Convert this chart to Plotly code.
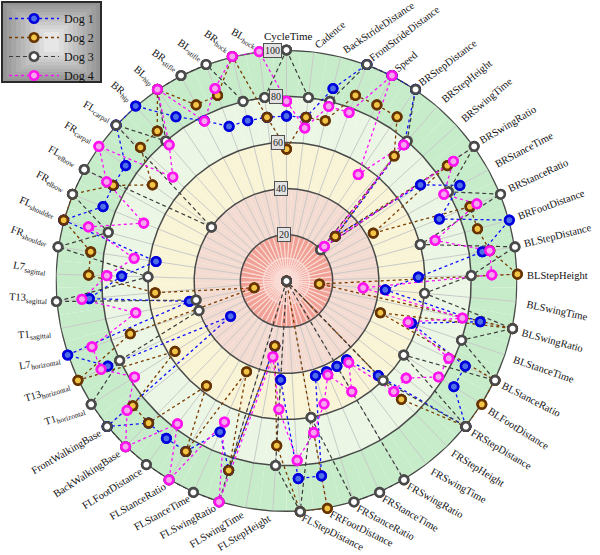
import math
import plotly.graph_objects as go

# ---------------- data ----------------
CATEGORIES = [
    "CycleTime", "Cadence", "BackStrideDistance", "FrontStrideDistance", "Speed",
    "BRStepDistance", "BRStepHeight", "BRSwingTime", "BRSwingRatio", "BRStanceTime",
    "BRStanceRatio", "BRFootDistance", "BLStepDistance", "BLStepHeight", "BLSwingTime",
    "BLSwingRatio", "BLStanceTime", "BLStanceRatio", "BLFootDistance", "FRStepDistance",
    "FRStepHeight", "FRSwingTime", "FRSwingRatio", "FRStanceTime", "FRStanceRatio",
    "FRFootDistance", "FLStepDistance", "FLStepHeight", "FLSwingTime", "FLSwingRatio",
    "FLStanceTime", "FLStanceRatio", "FLFootDistance", "BackWalkingBase", "FrontWalkingBase",
    "T1horizontal", "T13horizontal", "L7horizontal", "T1sagittal", "T13sagittal",
    "L7sagittal", "FRshoulder", "FLshoulder", "FRelbow", "FLelbow",
    "FRcarpal", "FLcarpal", "BRhip", "BLhip", "BRstifle",
    "BLstifle", "BRhock", "BLhock",
]

TICK_LABELS = [
    "CycleTime", "Cadence", "BackStrideDistance", "FrontStrideDistance", "Speed",
    "BRStepDistance", "BRStepHeight", "BRSwingTime", "BRSwingRatio", "BRStanceTime",
    "BRStanceRatio", "BRFootDistance", "BLStepDistance", "BLStepHeight", "BLSwingTime",
    "BLSwingRatio", "BLStanceTime", "BLStanceRatio", "BLFootDistance", "FRStepDistance",
    "FRStepHeight", "FRSwingTime", "FRSwingRatio", "FRStanceTime", "FRStanceRatio",
    "FRFootDistance", "FLStepDistance", "FLStepHeight", "FLSwingTime", "FLSwingRatio",
    "FLStanceTime", "FLStanceRatio", "FLFootDistance", "BackWalkingBase", "FrontWalkingBase",
    "T1<sub>horizontal</sub>", "T13<sub>horizontal</sub>", "L7<sub>horizontal</sub>",
    "T1<sub>sagittal</sub>", "T13<sub>sagittal</sub>", "L7<sub>sagittal</sub>",
    "FR<sub>shoulder</sub>", "FL<sub>shoulder</sub>", "FR<sub>elbow</sub>", "FL<sub>elbow</sub>",
    "FR<sub>carpal</sub>", "FL<sub>carpal</sub>", "BR<sub>hip</sub>", "BL<sub>hip</sub>",
    "BR<sub>stifle</sub>", "BL<sub>stifle</sub>", "BR<sub>hock</sub>", "BL<sub>hock</sub>",
]

SERIES_NAMES = ["Dog 1", "Dog 2", "Dog 3", "Dog 4"]

DOG1 = [71.4, 71.4, 85.7, 100, 100, 100, 78, 28.6, 71.4, 85.7,
        71.4, 100, 85.7, 57.1, 42.9, 85.7, 57.1, 85.7, 85.7, 100,
        57.1, 42.9, 42.9, 42.9, 42.9, 85.7, 85.7, 42.9, 28.6, 85.7,
        71.4, 85.7, 85.7, 85.7, 100, 28.6, 85.7, 100, 42.9, 85.7,
        71.4, 57.1, 100, 85.7, 85.7, 85.7, 100, 100, 85.7, 78,
        71.4, 71.4, 71.4]

DOG2 = [57.1, 71.4, 71.4, 85.7, 85.7, 85.7, 71.4, 28.6, 85.7, 42.9,
        85.7, 85.7, 89, 100, 14.3, 100, 42.9, 100, 100, 100,
        71.4, 0, 0, 0, 0, 100, 100, 71.4, 28.6, 85.7,
        42.9, 85.7, 57.1, 85.7, 85.7, 57.1, 100, 71.4, 14.3, 57.1,
        85.7, 85.7, 100, 100, 85.7, 71.4, 85.7, 85.7, 100, 85.7,
        85.7, 100, 71.4]

DOG3 = [100, 80, 80, 100, 100, 100, 80, 20, 100, 80,
        100, 60, 100, 80, 60, 100, 80, 100, 60, 100,
        60, 0, 100, 100, 100, 60, 100, 80, 0, 100,
        100, 100, 100, 100, 100, 100, 80, 40, 40, 100,
        60, 100, 80, 100, 100, 40, 100, 80, 100, 100,
        100, 80, 80]

DOG4 = [77.8, 66.7, 77.8, 77.8, 100, 55.6, 77.8, 22.2, 88.9, 77.8,
        88.9, 66.7, 88.9, 88.9, 33.3, 77.8, 55.6, 77.8, 77.8, 66.7,
        66.7, 44.4, 55.6, 44.4, 55.6, 66.7, 77.8, 55.6, 33.3, 100,
        66.7, 100, 77.8, 100, 88.9, 77.8, 88.9, 88.9, 66.7, 88.9,
        77.8, 66.7, 88.9, 66.7, 88.9, 100, 66.7, 77.8, 100, 77.8,
        88.9, 100, 100]

RING_TICKS = [20, 40, 60, 80, 100]

# ---------------- styles / geometry ----------------
W, H = 600, 555
CX, CY, R = 286.5, 281.0, 231.0
FONT = "Liberation Serif"

LINE_STYLES = [
    dict(color="#1010ff", dash="dot", width=1.3),
    dict(color="#7a3c00", dash="dot", width=1.3),
    dict(color="#3c3c3c", dash="4px,3px", width=1.2),
    dict(color="#ff10ff", dash="dot", width=1.3),
]
MARKER_STYLES = [
    dict(color="#4f6fe6", size=8.5, line=dict(color="#0000dd", width=2.6)),
    dict(color="#f4c544", size=8.5, line=dict(color="#673400", width=2.6)),
    dict(color="#ffffff", size=8.5, line=dict(color="#4a4a4a", width=2.6)),
    dict(color="#f6a6ef", size=8.5, line=dict(color="#ff14f0", width=2.6)),
]
# rotation (deg, clockwise) of each category label
LABEL_ANGLES = [0, -40, -34, -37, -40, -37, -39, -40, -31, -28,
                -25, -20, -14, 0, 12, 15, 19, 27, 32, 31,
                32, 29, 29, 30, 28, 26, 27, -31, -31, -28,
                -29, -30, -32, -33, -30, -18, -17, -10, -5, 3,
                10, 20, 23, 28, 29, 30, 30, 40, 40, 35,
                35, 35, 30]

BANDS = [  # (base, width, color)
    (0, 5, "#f5c0b7"), (5, 5, "#f3b0a6"), (10, 10, "#f0a094"), (20, 20, "#f4dbd1"),
    (40, 20, "#f8f4d5"), (60, 20, "#ebf7e4"), (80, 20, "#c7ecca"),
]

N = len(CATEGORIES)
LABEL_SIZE = 10.5


def paper(px, py):
    return px / W, 1 - py / H


fig = go.Figure()

# background bands
for b, w, col in BANDS:
    inner = b < 20
    fig.add_trace(go.Barpolar(
        theta=CATEGORIES, r=[w] * N, base=[b] * N,
        marker=dict(color=col, line=dict(color="#fadcd6" if inner else col,
                                         width=1.1 if inner else 0)),
        showlegend=False, hoverinfo="skip"))

# radial grid lines
gt, gr = [], []
for c in CATEGORIES:
    gt += [c, c, None]
    gr += [20, 100, None]
fig.add_trace(go.Scatterpolar(theta=gt, r=gr, mode="lines",
                              line=dict(color="#c9c9c9", width=1),
                              showlegend=False, hoverinfo="skip", connectgaps=False))

# ring circles
for t in RING_TICKS:
    fig.add_trace(go.Scatterpolar(
        theta=CATEGORIES + [CATEGORIES[0]], r=[t] * (N + 1), mode="lines",
        line=dict(color="#4a4a4a", width=2.0 if t == 100 else 1.5),
        showlegend=False, hoverinfo="skip"))

# dog polygons (lines + legend)
series = [DOG1, DOG2, DOG3, DOG4]
for k, vals in enumerate(series):
    fig.add_trace(go.Scatterpolar(
        theta=CATEGORIES + [CATEGORIES[0]], r=vals + [vals[0]],
        mode="lines+markers", name=SERIES_NAMES[k],
        line=LINE_STYLES[k], marker=MARKER_STYLES[k], hoverinfo="skip"))
# markers on top of all lines
for k, vals in enumerate(series):
    fig.add_trace(go.Scatterpolar(
        theta=CATEGORIES, r=vals, mode="markers",
        marker=MARKER_STYLES[k], showlegend=False, hoverinfo="skip"))

annotations = []
# category labels
h = 12.0
for i, lab in enumerate(TICK_LABELS):
    deg = i * 360.0 / N
    th = math.radians(deg)
    rr = R + 8.0 - 5.0 * abs(math.cos(th))
    px = CX + rr * math.sin(th)
    py = CY - rr * math.cos(th)
    rot = LABEL_ANGLES[i]
    s, c = math.sin(math.radians(rot)), math.cos(math.radians(rot))
    if i == 0:
        x, y = paper(CX + 2, CY - R - 6)
        annotations.append(dict(x=x, y=y, xref="paper", yref="paper", text=lab,
                                showarrow=False, xanchor="center", yanchor="bottom",
                                font=dict(family=FONT, size=LABEL_SIZE + 0.5, color="#111")))
        continue
    if deg < 180:
        ax = px - h * abs(s) / 2
        if rot >= 0:
            ay, ya = py - h * c / 2, "top"
        else:
            ay, ya = py + h * c / 2, "bottom"
        xa = "left"
    else:
        ax = px + h * abs(s) / 2
        if rot > 0:
            ay, ya = py + h * c / 2, "bottom"
        else:
            ay, ya = py - h * c / 2, "top"
        xa = "right"
    x, y = paper(ax, ay)
    annotations.append(dict(x=x, y=y, xref="paper", yref="paper", text=lab,
                            showarrow=False, xanchor=xa, yanchor=ya, textangle=rot,
                            font=dict(family=FONT, size=LABEL_SIZE, color="#111")))

# ring value boxes
for t in RING_TICKS:
    th = math.radians(-3.4)
    rr = R * t / 100.0
    x, y = paper(CX + rr * math.sin(th), CY - rr * math.cos(th))
    annotations.append(dict(x=x, y=y, xref="paper", yref="paper", text=str(t),
                            showarrow=False, xanchor="center", yanchor="middle",
                            bgcolor="#e2e2e2", bordercolor="#505050", borderwidth=1, borderpad=1,
                            font=dict(family=FONT, size=10, color="#222")))

# legend background (gradient imitation)
shapes = []
x0, y0, x1, y1 = 2, 2, 101, 82
steps = 10
for j in range(steps):
    f = j / (steps - 1)
    g = int(148 + (230 - 148) * f)
    ix = (x1 - x0) / 2 * 0.85 * f
    iy = (y1 - y0) / 2 * 0.75 * f
    a0 = paper(x0 + ix, y0 + iy)
    a1 = paper(x1 - ix, y1 - iy)
    shapes.append(dict(type="rect", xref="paper", yref="paper",
                       x0=a0[0], y0=a0[1], x1=a1[0], y1=a1[1],
                       fillcolor=f"rgb({g},{g},{g})", line=dict(width=0), layer="above"))
b0, b1 = paper(x0, y0), paper(x1, y1)
shapes.append(dict(type="rect", xref="paper", yref="paper", x0=b0[0], y0=b0[1], x1=b1[0], y1=b1[1],
                   line=dict(color="#2a2a2a", width=2), fillcolor="rgba(0,0,0,0)", layer="above"))

fig.update_layout(
    width=W, height=H, margin=dict(l=0, r=0, t=0, b=0),
    paper_bgcolor="white", plot_bgcolor="white",
    font=dict(family=FONT),
    polar=dict(
        domain=dict(x=[(CX - R) / W, (CX + R) / W], y=[1 - (CY + R) / H, 1 - (CY - R) / H]),
        bgcolor="white", bargap=0, hole=0,
        angularaxis=dict(rotation=90, direction="clockwise", type="category",
                         categoryorder="array", categoryarray=CATEGORIES,
                         showgrid=False, showticklabels=False, ticks="", showline=False),
        radialaxis=dict(range=[0, 100], visible=False, showgrid=False),
    ),
    legend=dict(x=4 / W, y=1 - 4 / H, xanchor="left", yanchor="top",
                bgcolor="rgba(0,0,0,0)", borderwidth=0,
                font=dict(family=FONT, size=12, color="#111"),
                itemwidth=50, tracegroupgap=0),
    annotations=annotations, shapes=shapes,
)

fig.write_html("out.html", config={"displayModeBar": False},
               post_script="document.body.style.margin='0';")
